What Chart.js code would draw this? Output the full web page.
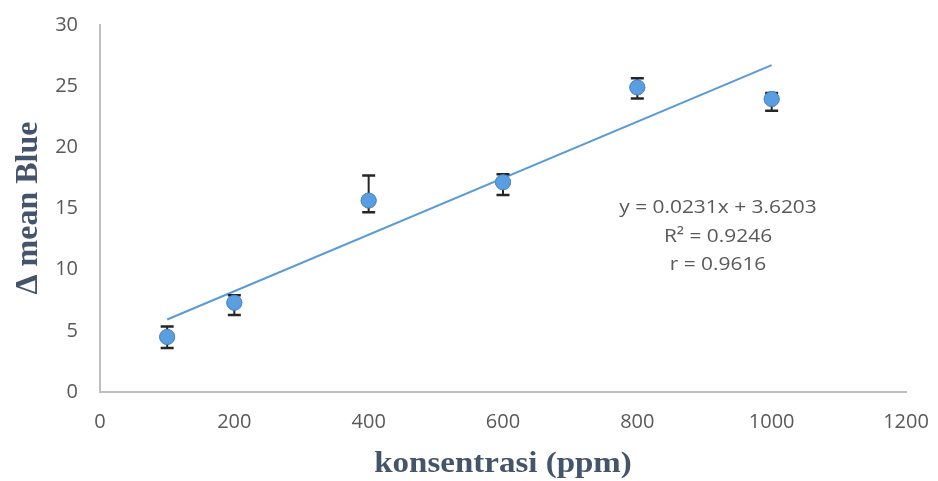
<!DOCTYPE html>
<html>
<head>
<meta charset="utf-8">
<script src="https://cdn.jsdelivr.net/npm/chart.js@4/dist/chart.umd.min.js"></script>
<style>
  html, body { margin: 0; padding: 0; background: #fff; }
  #wrap { width: 938px; height: 481px; }
</style>
</head>
<body>
<div id="wrap"><canvas id="chart"></canvas></div>
<script>
// data
const concentrations = [100, 200, 400, 600, 800, 1000];
const meanBlue = [4.5, 7.3, 15.65, 17.15, 24.9, 23.95];
const errLow = [3.6, 6.3, 14.7, 16.1, 24.0, 23.0];
const errHigh = [5.35, 7.9, 17.7, 17.8, 25.65, 24.45];
// trendline ends (y = 0.0231x + 3.6203)
const trendX = [100, 1000];
const trendY = [5.93, 26.72];
const eqLines = ["y = 0.0231x + 3.6203", "R² = 0.9246", "r = 0.9616"];
const xTitle = "konsentrasi (ppm)";
const yTitle = "Δ mean Blue";

const tickColor = '#595959';
const axisColor = '#bfbfbf';
const titleColor = '#44546a';
const blue = '#5b9bd5';

const errorBars = {
  id: 'errorBars',
  afterDatasetsDraw(chart) {
    const { ctx, scales } = chart;
    const meta = chart.getDatasetMeta(1);
    ctx.save();
    ctx.strokeStyle = '#262626';
    meta.data.forEach((pt, i) => {
      const x = pt.x;
      const yLo = scales.y.getPixelForValue(errLow[i]);
      const yHi = scales.y.getPixelForValue(errHigh[i]);
      ctx.lineWidth = 2;
      ctx.beginPath();
      ctx.moveTo(x, yLo); ctx.lineTo(x, yHi);
      ctx.stroke();
      ctx.lineWidth = 2.5;
      ctx.beginPath();
      ctx.moveTo(x - 6.5, yLo); ctx.lineTo(x + 6.5, yLo);
      ctx.moveTo(x - 6.5, yHi); ctx.lineTo(x + 6.5, yHi);
      ctx.stroke();
    });
    ctx.restore();
    // markers sit on top of the bars
    meta.controller.draw();
  }
};

const labels = {
  id: 'labels',
  afterDraw(chart) {
    const { ctx } = chart;
    ctx.save();
    ctx.fillStyle = tickColor;
    ctx.font = '19px "Open Sans", sans-serif';
    ctx.textAlign = 'center';
    ctx.textBaseline = 'alphabetic';
    const baselines = [213, 241.5, 270];
    eqLines.forEach((t, i) => {
      ctx.save();
      ctx.translate(718, baselines[i]);
      ctx.scale(1.1, 1);
      ctx.fillText(t, 0, 0);
      ctx.restore();
    });

    ctx.fillStyle = titleColor;
    ctx.font = 'bold 30px "Liberation Serif", serif';
    ctx.save();
    ctx.translate(503, 472);
    ctx.scale(1.1, 1);
    ctx.fillText(xTitle, 0, 0);
    ctx.restore();
    ctx.font = 'bold 32px "Liberation Serif", serif';
    ctx.translate(37, 208);
    ctx.rotate(-Math.PI / 2);
    ctx.fillText(yTitle, 0, 0);
    ctx.restore();
  }
};

new Chart(document.getElementById('chart'), {
  type: 'scatter',
  data: {
    datasets: [
      {
        type: 'line',
        data: trendX.map((x, i) => ({ x: x, y: trendY[i] })),
        borderColor: blue,
        borderWidth: 2,
        pointRadius: 0,
        fill: false
      },
      {
        data: concentrations.map((x, i) => ({ x: x, y: meanBlue[i] })),
        backgroundColor: '#5a9de0',
        borderColor: '#4b8bca',
        borderWidth: 1,
        pointRadius: 7.5
      }
    ]
  },
  options: {
    responsive: true,
    maintainAspectRatio: false,
    animation: false,
    layout: { padding: { top: 25, right: 32, left: 0, bottom: 0 } },
    plugins: { legend: { display: false }, tooltip: { enabled: false } },
    scales: {
      x: {
        type: 'linear',
        min: 0, max: 1200,
        ticks: {
          stepSize: 200, color: tickColor,
          font: { size: 20, family: '"Open Sans", sans-serif' }, padding: 18,
          callback: v => String(v)
        },
        grid: { display: false, drawTicks: false },
        border: { color: axisColor, width: 2 },
        afterFit(scale) {
          scale.height = 89;
          scale.paddingLeft = 0;
          scale.paddingRight = 0;
        }
      },
      y: {
        min: 0, max: 30,
        ticks: {
          stepSize: 5, color: tickColor,
          font: { size: 20, family: '"Open Sans", sans-serif' }, padding: 22,
          callback: v => String(v)
        },
        grid: { display: false, drawTicks: false },
        border: { color: axisColor, width: 2 },
        afterFit(scale) {
          scale.width = 100;
          scale.paddingTop = 0;
          scale.paddingBottom = 0;
        }
      }
    }
  },
  plugins: [errorBars, labels]
});
</script>
</body>
</html>
